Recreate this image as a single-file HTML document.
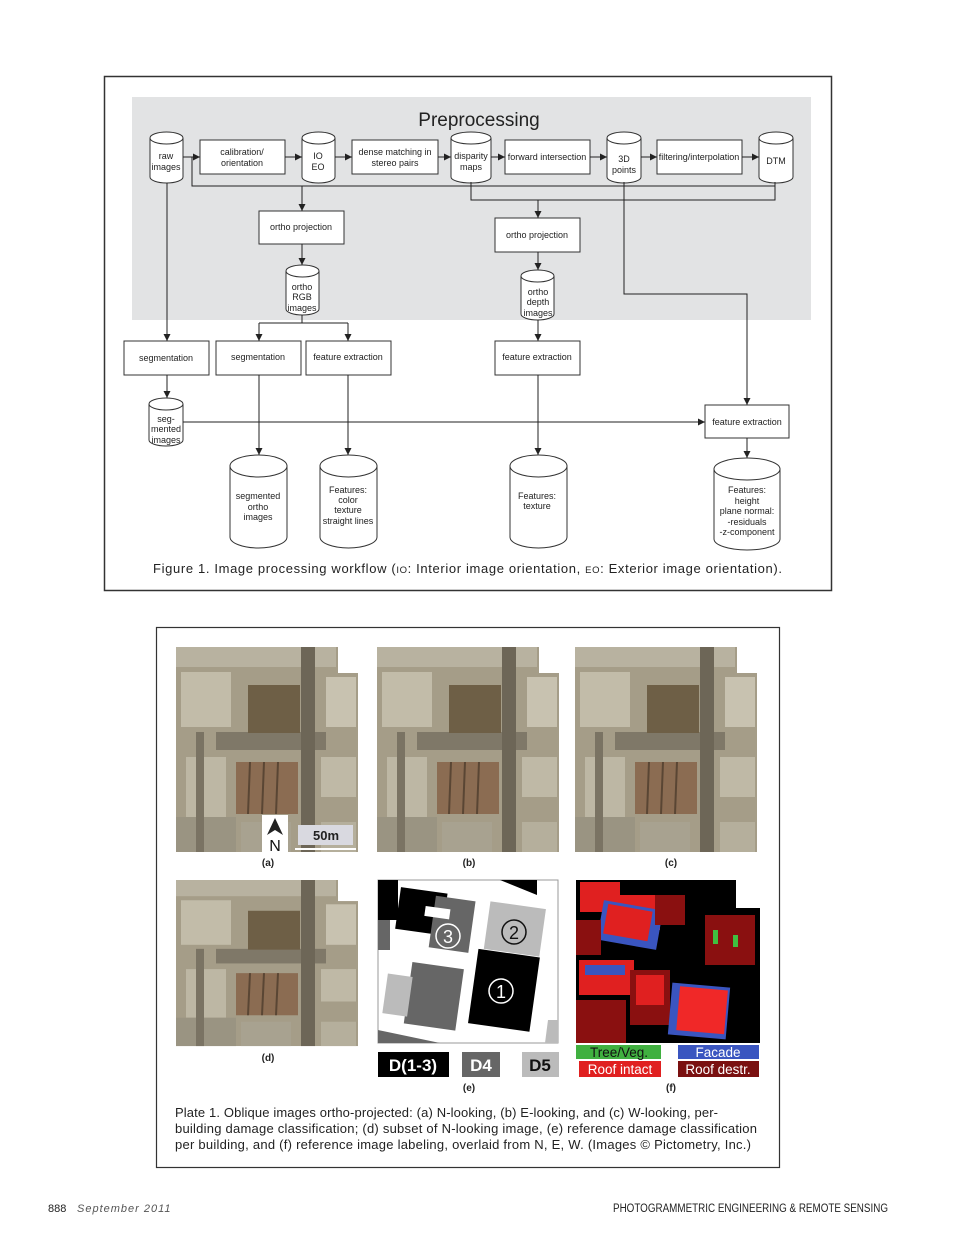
<!DOCTYPE html>
<html><head><meta charset="utf-8"><style>
html,body{margin:0;padding:0;background:#fff}
svg{display:block}
text{font-family:"Liberation Sans",sans-serif}
</style></head><body>
<svg width="960" height="1246" viewBox="0 0 960 1246" xmlns="http://www.w3.org/2000/svg">
<defs>
<marker id="ar" viewBox="0 0 10 10" refX="10" refY="5" markerWidth="7" markerHeight="7" orient="auto"><path d="M0,0 L10,5 L0,10 Z" fill="#222"/></marker>
<g id="aer">
<rect x="0" y="0" width="182" height="205" fill="#a59d88"/>
<rect x="162" y="0" width="20" height="26" fill="#fff"/>
<rect x="0" y="0" width="160" height="20" fill="#b8b2a0"/>
<rect x="5" y="25" width="50" height="55" fill="#c2bca9"/>
<rect x="10" y="110" width="40" height="60" fill="#bdb7a4"/>
<rect x="150" y="30" width="30" height="50" fill="#c8c2b0"/>
<rect x="145" y="110" width="35" height="40" fill="#bfb9a6"/>
<rect x="0" y="170" width="60" height="35" fill="#9a9482"/>
<rect x="40" y="85" width="110" height="18" fill="#7f7868"/>
<rect x="125" y="0" width="14" height="205" fill="#6d6657"/>
<rect x="72" y="38" width="52" height="48" fill="#6e5f46"/>
<rect x="20" y="85" width="8" height="120" fill="#7a7363"/>
<rect x="60" y="115" width="62" height="52" fill="#8b6c52"/>
<line x1="74" y1="115" x2="72" y2="167" stroke="#5a4634" stroke-width="2"/>
<line x1="88" y1="115" x2="86" y2="167" stroke="#5a4634" stroke-width="2"/>
<line x1="102" y1="115" x2="100" y2="167" stroke="#5a4634" stroke-width="2"/>
<rect x="145" y="175" width="35" height="30" fill="#b5af9c"/>
<rect x="65" y="175" width="50" height="30" fill="#a8a290"/>
</g>
</defs>

<!-- Figure 1 -->
<rect x="104.5" y="76.5" width="727" height="514" fill="#fff" stroke="#333" stroke-width="1.5"/>
<rect x="132" y="97" width="679" height="223" fill="#e2e3e4"/>
<text x="479" y="126" font-size="19" text-anchor="middle" fill="#222">Preprocessing</text>

<g fill="#fff" stroke="#333" stroke-width="1">
<path d="M150,138 A16.5,6 0 0 1 183,138 V177 A16.5,6 0 0 1 150,177 Z"/><path d="M150,138 A16.5,6 0 0 0 183,138" fill="none"/>
<path d="M302,138 A16.5,6 0 0 1 335,138 V177 A16.5,6 0 0 1 302,177 Z"/><path d="M302,138 A16.5,6 0 0 0 335,138" fill="none"/>
<path d="M451,138 A20,6 0 0 1 491,138 V177 A20,6 0 0 1 451,177 Z"/><path d="M451,138 A20,6 0 0 0 491,138" fill="none"/>
<path d="M607,138 A17,6 0 0 1 641,138 V177 A17,6 0 0 1 607,177 Z"/><path d="M607,138 A17,6 0 0 0 641,138" fill="none"/>
<path d="M759,138 A17,6 0 0 1 793,138 V177 A17,6 0 0 1 759,177 Z"/><path d="M759,138 A17,6 0 0 0 793,138" fill="none"/>
<rect x="200" y="140" width="85" height="34"/>
<rect x="352" y="140" width="86" height="34"/>
<rect x="505" y="140" width="85" height="34"/>
<rect x="657" y="140" width="85" height="34"/>
<rect x="259" y="211" width="85" height="33"/>
<rect x="495" y="218" width="85" height="34"/>
<path d="M286,271 A16.5,6 0 0 1 319,271 V309 A16.5,6 0 0 1 286,309 Z"/><path d="M286,271 A16.5,6 0 0 0 319,271" fill="none"/>
<path d="M521,276 A16.5,6 0 0 1 554,276 V314 A16.5,6 0 0 1 521,314 Z"/><path d="M521,276 A16.5,6 0 0 0 554,276" fill="none"/>
<rect x="124" y="341" width="85" height="34"/>
<rect x="216" y="341" width="85" height="34"/>
<rect x="306" y="341" width="85" height="34"/>
<rect x="495" y="341" width="85" height="34"/>
<rect x="705" y="405" width="84" height="33"/>
<path d="M149,404 A17,6 0 0 1 183,404 V440 A17,6 0 0 1 149,440 Z"/><path d="M149,404 A17,6 0 0 0 183,404" fill="none"/>
<path d="M230,466 A28.5,11 0 0 1 287,466 V537 A28.5,11 0 0 1 230,537 Z"/><path d="M230,466 A28.5,11 0 0 0 287,466" fill="none"/>
<path d="M320,466 A28.5,11 0 0 1 377,466 V537 A28.5,11 0 0 1 320,537 Z"/><path d="M320,466 A28.5,11 0 0 0 377,466" fill="none"/>
<path d="M510,466 A28.5,11 0 0 1 567,466 V537 A28.5,11 0 0 1 510,537 Z"/><path d="M510,466 A28.5,11 0 0 0 567,466" fill="none"/>
<path d="M714,469 A33,11 0 0 1 780,469 V539 A33,11 0 0 1 714,539 Z"/><path d="M714,469 A33,11 0 0 0 780,469" fill="none"/>
</g>

<g stroke="#222" stroke-width="1" fill="none">
<line x1="183" y1="157" x2="200" y2="157" marker-end="url(#ar)"/>
<line x1="285" y1="157" x2="302" y2="157" marker-end="url(#ar)"/>
<line x1="335" y1="157" x2="352" y2="157" marker-end="url(#ar)"/>
<line x1="438" y1="157" x2="451" y2="157" marker-end="url(#ar)"/>
<line x1="491" y1="157" x2="505" y2="157" marker-end="url(#ar)"/>
<line x1="590" y1="157" x2="607" y2="157" marker-end="url(#ar)"/>
<line x1="641" y1="157" x2="657" y2="157" marker-end="url(#ar)"/>
<line x1="742" y1="157" x2="759" y2="157" marker-end="url(#ar)"/>
<polyline points="192,157 192,186 775,186 775,182"/>
<line x1="302" y1="186" x2="302" y2="211" marker-end="url(#ar)"/>
<polyline points="471,182 471,200 775,200 775,186"/>
<line x1="538" y1="200" x2="538" y2="218" marker-end="url(#ar)"/>
<line x1="302" y1="244" x2="302" y2="265" marker-end="url(#ar)"/>
<line x1="538" y1="252" x2="538" y2="270" marker-end="url(#ar)"/>
<polyline points="624,182 624,294 747,294 747,405" marker-end="url(#ar)"/>
<line x1="167" y1="183" x2="167" y2="341" marker-end="url(#ar)"/>
<line x1="302" y1="315" x2="302" y2="323"/>
<line x1="259" y1="323" x2="348" y2="323"/>
<line x1="259" y1="323" x2="259" y2="341" marker-end="url(#ar)"/>
<line x1="348" y1="323" x2="348" y2="341" marker-end="url(#ar)"/>
<line x1="538" y1="320" x2="538" y2="341" marker-end="url(#ar)"/>
<line x1="167" y1="375" x2="167" y2="398" marker-end="url(#ar)"/>
<line x1="183" y1="422" x2="705" y2="422" marker-end="url(#ar)"/>
<line x1="259" y1="375" x2="259" y2="455" marker-end="url(#ar)"/>
<line x1="348" y1="375" x2="348" y2="455" marker-end="url(#ar)"/>
<line x1="538" y1="375" x2="538" y2="455" marker-end="url(#ar)"/>
<line x1="747" y1="438" x2="747" y2="458" marker-end="url(#ar)"/>
</g>

<g font-size="9" fill="#222" text-anchor="middle">
<text x="166" y="159">raw</text><text x="166" y="170">images</text>
<text x="242" y="155">calibration/</text><text x="242" y="166">orientation</text>
<text x="318" y="159">IO</text><text x="318" y="170">EO</text>
<text x="395" y="155">dense matching in</text><text x="395" y="166">stereo pairs</text>
<text x="471" y="159">disparity</text><text x="471" y="170">maps</text>
<text x="547" y="160">forward intersection</text>
<text x="624" y="162">3D</text><text x="624" y="173">points</text>
<text x="699" y="160">filtering/interpolation</text>
<text x="776" y="164">DTM</text>
<text x="301" y="230">ortho projection</text>
<text x="537" y="238">ortho projection</text>
<text x="302" y="290">ortho</text><text x="302" y="300">RGB</text><text x="302" y="311">images</text>
<text x="538" y="295">ortho</text><text x="538" y="305">depth</text><text x="538" y="316">images</text>
<text x="166" y="361">segmentation</text>
<text x="258" y="360">segmentation</text>
<text x="348" y="360">feature extraction</text>
<text x="537" y="360">feature extraction</text>
<text x="747" y="425">feature extraction</text>
<text x="166" y="422">seg-</text><text x="166" y="432">mented</text><text x="166" y="443">images</text>
<text x="258" y="499">segmented</text><text x="258" y="510">ortho</text><text x="258" y="520">images</text>
<text x="348" y="493">Features:</text><text x="348" y="503">color</text><text x="348" y="513">texture</text><text x="348" y="524">straight lines</text>
<text x="537" y="499">Features:</text><text x="537" y="509">texture</text>
<text x="747" y="493">Features:</text><text x="747" y="504">height</text><text x="747" y="514">plane normal:</text><text x="747" y="525">-residuals</text><text x="747" y="535">-z-component</text>
</g>
<text x="153" y="573" font-size="13" fill="#222" textLength="629" lengthAdjust="spacing">Figure 1.  Image processing workflow (<tspan font-size="9.5">IO</tspan>: Interior image orientation, <tspan font-size="9.5">EO</tspan>: Exterior image orientation).</text>

<!-- Plate 1 -->
<rect x="156.5" y="627.5" width="623" height="540" fill="#fff" stroke="#333" stroke-width="1.2"/>
<use href="#aer" x="176" y="647"/>
<rect x="262" y="815" width="26" height="37" fill="#fff"/>
<path d="M275,818 L283,835 L275,830 L267,835 Z" fill="#222"/>
<text x="275" y="851" font-size="16" text-anchor="middle" fill="#111">N</text>
<rect x="298" y="825" width="55" height="20" fill="#d9d9e0"/>
<text x="326" y="840" font-size="13" font-weight="bold" text-anchor="middle" fill="#222">50m</text>
<line x1="295" y1="849" x2="356" y2="849" stroke="#fff" stroke-width="2"/>
<use href="#aer" x="377" y="647"/>
<use href="#aer" x="575" y="647"/>
<g transform="translate(176,880) scale(1,0.81)"><use href="#aer"/></g>
<g font-size="10" font-weight="bold" text-anchor="middle" fill="#222">
<text x="268" y="866">(a)</text><text x="469" y="866">(b)</text><text x="671" y="866">(c)</text>
<text x="268" y="1061">(d)</text><text x="469" y="1091">(e)</text><text x="671" y="1091">(f)</text>
</g>

<!-- (e) -->
<rect x="378" y="880" width="180" height="163" fill="#fff" stroke="#999" stroke-width="1"/>
<path d="M378,880 H398 V920 H378 Z" fill="#000"/>
<path d="M378,920 H390 V950 H378 Z" fill="#666"/>
<path d="M500,880 H537 V895 Z" fill="#000"/>
<rect x="398" y="890" width="47" height="42" fill="#000" transform="rotate(8 420 910)"/>
<rect x="432" y="898" width="40" height="52" fill="#666" transform="rotate(8 450 925)"/>
<rect x="425" y="908" width="25" height="10" fill="#fff" transform="rotate(8 440 912)"/>
<rect x="487" y="905" width="56" height="48" fill="#bbb" transform="rotate(8 515 928)"/>
<rect x="473" y="953" width="62" height="75" fill="#000" transform="rotate(8 505 990)"/>
<rect x="408" y="965" width="52" height="62" fill="#666" transform="rotate(8 432 995)"/>
<rect x="385" y="975" width="25" height="40" fill="#bbb" transform="rotate(8 397 995)"/>
<path d="M378,1030 L440,1043 H378 Z" fill="#666"/>
<path d="M548,1020 H558 V1043 H545 Z" fill="#bbb"/>
<circle cx="448" cy="936" r="12" fill="none" stroke="#fff" stroke-width="1.5"/><text x="448" y="943" font-size="18" text-anchor="middle" fill="#fff">3</text>
<circle cx="514" cy="932" r="12" fill="none" stroke="#111" stroke-width="1.5"/><text x="514" y="939" font-size="18" text-anchor="middle" fill="#111">2</text>
<circle cx="501" cy="991" r="12" fill="none" stroke="#fff" stroke-width="1.5"/><text x="501" y="998" font-size="18" text-anchor="middle" fill="#fff">1</text>
<rect x="378" y="1052" width="71" height="25" fill="#000"/><text x="413" y="1071" font-size="17" font-weight="bold" text-anchor="middle" fill="#fff">D(1-3)</text>
<rect x="462" y="1052" width="38" height="25" fill="#666"/><text x="481" y="1071" font-size="17" font-weight="bold" text-anchor="middle" fill="#fff">D4</text>
<rect x="522" y="1052" width="37" height="25" fill="#bbb"/><text x="540" y="1071" font-size="17" font-weight="bold" text-anchor="middle" fill="#111">D5</text>

<!-- (f) -->
<rect x="576" y="880" width="184" height="163" fill="#000"/>
<rect x="736" y="880" width="24" height="28" fill="#fff"/>
<rect x="580" y="882" width="40" height="30" fill="#e02020"/>
<rect x="620" y="895" width="40" height="35" fill="#e02020"/>
<rect x="600" y="905" width="60" height="40" fill="#3a55c0" transform="rotate(10 630 925)"/>
<rect x="605" y="908" width="45" height="30" fill="#e02020" transform="rotate(10 630 925)"/>
<rect x="655" y="895" width="30" height="30" fill="#8a1010"/>
<rect x="576" y="920" width="25" height="35" fill="#8a1010"/>
<rect x="705" y="915" width="50" height="50" fill="#8a1010"/>
<rect x="713" y="930" width="5" height="14" fill="#40c040"/>
<rect x="733" y="935" width="5" height="12" fill="#40c040"/>
<rect x="579" y="960" width="55" height="35" fill="#e02020"/>
<rect x="585" y="965" width="40" height="10" fill="#3a55c0"/>
<rect x="630" y="970" width="40" height="55" fill="#8a1010"/>
<rect x="636" y="975" width="28" height="30" fill="#e02020"/>
<rect x="576" y="1000" width="50" height="43" fill="#8a1010"/>
<rect x="670" y="985" width="58" height="52" fill="#3a55c0" transform="rotate(5 699 1011)"/>
<rect x="678" y="988" width="48" height="44" fill="#f02828" transform="rotate(5 699 1011)"/>
<rect x="576" y="1045" width="85" height="14" fill="#40b040"/><text x="619" y="1057" font-size="13.5" text-anchor="middle" fill="#111">Tree/Veg.</text>
<rect x="678" y="1045" width="81" height="14" fill="#3a55c0"/><text x="718" y="1057" font-size="13.5" text-anchor="middle" fill="#fff">Facade</text>
<rect x="579" y="1061" width="82" height="16" fill="#e02020"/><text x="620" y="1074" font-size="13.5" text-anchor="middle" fill="#fff">Roof intact</text>
<rect x="678" y="1061" width="81" height="16" fill="#7a1010"/><text x="718" y="1074" font-size="13.5" text-anchor="middle" fill="#fff">Roof destr.</text>

<g font-size="13" fill="#222">
<text x="175" y="1117" textLength="543" lengthAdjust="spacing">Plate 1.  Oblique images ortho-projected: (a) N-looking, (b) E-looking, and (c) W-looking, per-</text>
<text x="175" y="1133" textLength="582" lengthAdjust="spacing">building damage classification; (d) subset of N-looking image, (e) reference damage classification</text>
<text x="175" y="1149" textLength="576" lengthAdjust="spacing">per building, and (f) reference image labeling, overlaid from N, E, W. (Images © Pictometry, Inc.)</text>
</g>

<text x="48" y="1212" font-size="11" fill="#222">888</text>
<text x="77" y="1212" font-size="11" font-style="italic" fill="#555" letter-spacing="1">September 2011</text>
<text x="613" y="1212" font-size="11.5" fill="#222" textLength="275" lengthAdjust="spacingAndGlyphs">PHOTOGRAMMETRIC ENGINEERING &amp; REMOTE SENSING</text>
</svg>
</body></html>
